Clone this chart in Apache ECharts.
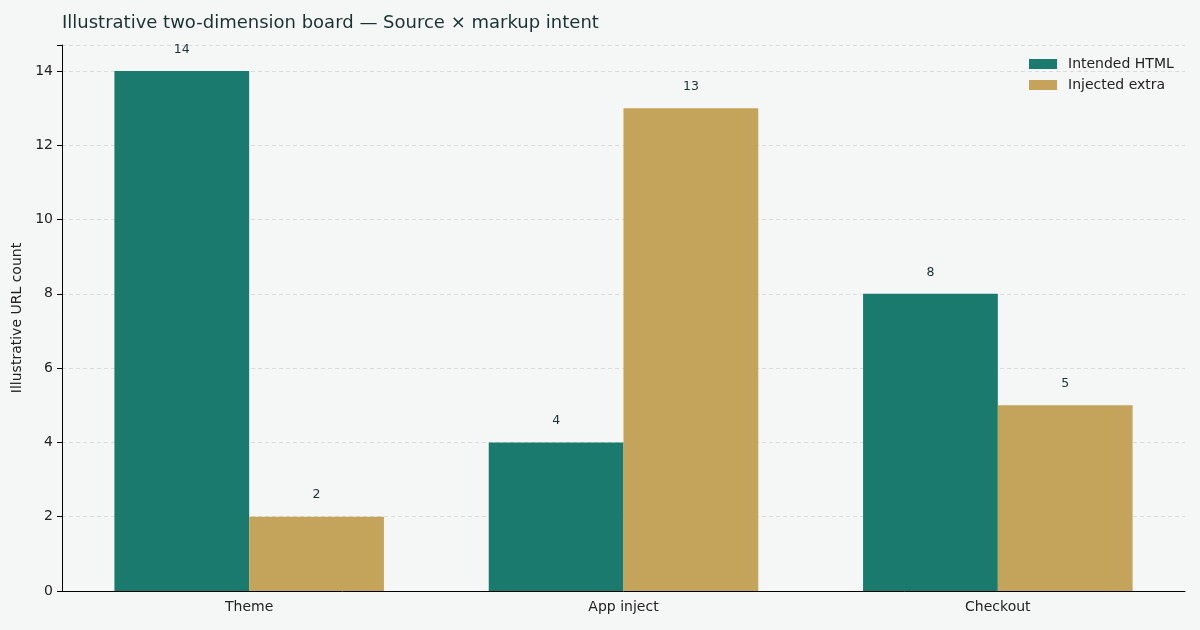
<!DOCTYPE html>
<html>
<head>
    <meta charset="utf-8">
    <title>Source x markup intent</title>
    <script src="https://cdn.jsdelivr.net/npm/echarts@6/dist/echarts.min.js"></script>
    <style>
        html, body { margin: 0; padding: 0; background: #f5f7f6; }
        #chart { width: 1200px; height: 630px; }
    </style>
</head>
<body>
<div id="chart"></div>
<script>
    // 数据
    var categories = ['Theme', 'App inject', 'Checkout'];
    var intendedHtml = [14, 4, 8];
    var injectedExtra = [2, 13, 5];
    var seriesNames = ['Intended HTML', 'Injected extra'];

    var font = 'DejaVu Sans';
    var myChart = echarts.init(document.getElementById('chart'));
    myChart.setOption({
        backgroundColor: '#f5f7f6',
        animation: false,
        textStyle: { fontFamily: font },
        title: {
            text: 'Illustrative two-dimension board \u2014 Source \u00d7 markup intent',
            left: 57,
            top: 9,
            textStyle: { fontFamily: font, fontSize: 18, fontWeight: 'normal', color: '#1a3330' }
        },
        legend: {
            orient: 'vertical',
            left: 1024,
            top: 52,
            itemWidth: 28,
            itemHeight: 10,
            itemGap: 7,
            icon: 'rect',
            textStyle: { fontFamily: font, fontSize: 14, color: '#222', padding: [0, 0, 0, 6] },
            data: seriesNames
        },
        grid: { left: 62, right: 15, top: 45, bottom: 39 },
        xAxis: {
            type: 'category',
            data: categories,
            axisLine: { lineStyle: { color: '#000' } },
            axisTick: { alignWithLabel: true, length: 5, lineStyle: { color: '#000' } },
            axisLabel: { fontFamily: font, fontSize: 14, color: '#222', margin: 9 }
        },
        yAxis: {
            type: 'value',
            min: 0,
            max: 14.7,
            interval: 2,
            name: 'Illustrative URL count',
            nameLocation: 'middle',
            nameGap: 31,
            nameTextStyle: { fontFamily: font, fontSize: 14, color: '#222' },
            axisLine: { show: true, lineStyle: { color: '#000' } },
            axisTick: { show: true, length: 5, lineStyle: { color: '#000' } },
            axisLabel: {
                fontFamily: font, fontSize: 14, color: '#222', margin: 9,
                formatter: function (v) { return v % 2 === 0 ? v : ''; }
            },
            splitLine: { lineStyle: { color: '#dcdcdc', type: [4, 3] } }
        },
        series: [{
            name: seriesNames[0],
            type: 'bar',
            data: intendedHtml,
            barWidth: '36%',
            barGap: '0%',
            itemStyle: { color: '#1b7a6e' },
            label: { show: true, position: 'top', distance: 15, fontFamily: font, fontSize: 12.5, color: '#1a3330' }
        }, {
            name: seriesNames[1],
            type: 'bar',
            data: injectedExtra,
            barWidth: '36%',
            barGap: '0%',
            itemStyle: { color: '#c4a35a' },
            label: { show: true, position: 'top', distance: 15, fontFamily: font, fontSize: 12.5, color: '#1a3330' }
        }]
    });
</script>
</body>
</html>
